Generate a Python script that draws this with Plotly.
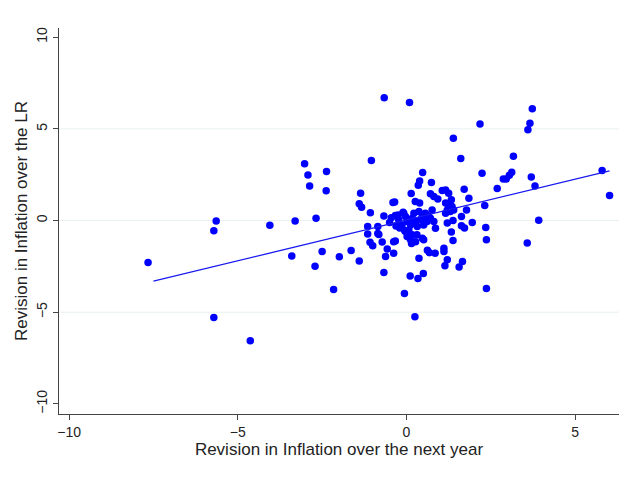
import plotly.graph_objects as go

# revisions (next-year vs long-run inflation)
rev_next_year = [
    -7.66, -5.71, -5.64, -5.71, -4.63, -4.05, -3.40, -3.30, -3.02, -2.92,
    -2.87, -2.68, -2.71, -2.50, -2.37, -2.38, -2.16, -1.99, -1.64, -1.40,
    -1.36, -1.40, -1.33, -1.04, -1.07, -1.15, -1.15, -0.85, -0.85, -0.82,
    -1.08, -1.00, -0.72, -0.57, -0.62, -0.67, -0.66, -0.67, -0.40, -0.35,
    -0.38, -0.33, -0.38, -0.06, 0.09, 0.14, 0.26, 0.39, 0.35, 0.39,
    0.48, 0.74, 0.71, 0.81, 0.93, 1.06, 1.16, 1.25, 1.33, 1.16,
    1.25, 1.35, 1.21, 1.30, 1.40, 1.16, 1.78, 1.63, 1.38, 1.21,
    1.63, 1.72, 1.95, 1.33, 1.38, 1.11, 1.11, 1.21, 1.14, 1.66,
    1.56, 1.61, 1.39, 1.71, 1.85, 2.18, 2.24, 2.32, 2.35, 2.37,
    2.37, 2.69, 2.87, 2.96, 3.05, 3.12, 3.17, 3.60, 3.66, 3.73,
    3.70, 3.81, 3.58, 3.92, 5.80, 6.02, 0.25, 0.50, 0.34, 0.11,
    0.37, 0.62, 0.68, 0.85, 0.02, -0.03, 0.17, 0.12, 0.27, 0.51,
    0.47, 0.31, -0.33, -0.31, -0.23, -0.13, -0.08, -0.03, 0.02, 0.07,
    0.12, 0.17, 0.22, 0.27, 0.32, 0.37, 0.42, 0.47, 0.51, 0.56,
    0.61, 0.66, 0.71, 0.76, 0.81, 0.86, -0.45, -0.50, -0.25, -0.20,
    -0.10, -0.05, 0.05, 0.15, 0.10,
]
rev_long_run = [
    -2.29, -0.56, -0.03, -5.29, -6.55, -0.25, -1.93, -0.03, 3.10, 2.48,
    1.88, 0.12, -2.49, -1.69, 2.68, 1.62, -3.76, -1.98, -1.63, -2.21,
    1.49, 0.92, 0.72, 3.28, 0.43, -0.33, -0.74, -0.33, -0.70, -0.76,
    -1.18, -1.38, -1.17, -1.55, -1.96, -2.84, 6.69, 0.25, 0.99, 1.01,
    -1.15, -1.12, -1.78, -3.98, 6.44, 1.47, 1.04, 0.95, 1.93, 2.15,
    2.62, 2.07, 1.46, 1.31, 1.17, 1.64, 1.67, 1.49, 1.13, 0.95,
    0.86, 0.76, 0.58, 0.49, 0.58, 0.40, 0.58, 0.22, 0.00, -0.14,
    -0.29, -0.41, -0.11, -0.63, -1.09, -1.51, -1.69, -2.14, -2.47, -2.24,
    -2.54, 3.38, 4.49, 1.71, 1.22, 5.26, 2.58, 0.82, -0.38, -1.05,
    -3.71, 1.75, 2.27, 2.27, 2.47, 2.64, 3.51, 4.95, 5.31, 6.09,
    2.37, 1.89, -1.22, 0.02, 2.73, 1.36, -5.25, -2.89, -3.16, -3.03,
    -2.05, -1.62, -1.75, -1.78, -0.87, -0.60, -0.78, -1.05, -1.15, -1.05,
    -0.96, -0.78, 0.27, -0.30, 0.04, -0.24, 0.40, 0.22, -0.05, -0.51,
    -0.24, 0.13, 0.40, -0.05, -0.33, 0.49, 0.04, 0.22, -0.24, 0.40,
    -0.05, 0.22, 0.13, 0.58, -0.05, -0.42, 0.15, -0.10, 0.30, -0.40,
    0.45, -0.55, -0.70, -1.25, -0.95,
]

# fitted line end points
fit_x = [-7.50, 6.02]
fit_y = [-3.31, 2.71]

x_ticks = [-10, -5, 0, 5]
y_ticks = [-10, -5, 0, 5, 10]
grid_y = [-5, 0, 5]

fig = go.Figure(go.Scatter(
    x=rev_next_year,
    y=rev_long_run,
    mode='markers',
    marker=dict(color='#0000FF', size=7.5, line=dict(width=0)),
    showlegend=False
))

fig.add_traces(go.Scatter(
    x=fit_x,
    y=fit_y,
    mode='lines',
    line=dict(color='#1A1AF0', width=1.3),
    showlegend=False
))

for g in grid_y:
    fig.add_hline(y=g, line=dict(color='#E8F0F1', width=1), layer='below')

# page body has an 8px margin, so the figure is a bit smaller than the window
fig.update_layout(
    width=620,
    height=469,
    plot_bgcolor='white',
    paper_bgcolor='white',
    font=dict(family='Liberation Sans, Arial, sans-serif', size=14, color='#222222'),
    margin=dict(l=51, r=9, t=20, b=63),
    xaxis=dict(
        range=[-10.3, 6.3],
        tickvals=x_ticks,
        ticks='outside', ticklen=5, tickcolor='#444444',
        showline=True, linecolor='#444444', linewidth=1,
        showgrid=False, zeroline=False,
        title=dict(text='Revision in Inflation over the next year', standoff=2),
    ),
    yaxis=dict(
        range=[-10.55, 10.5],
        tickvals=y_ticks,
        tickangle=-90,
        ticks='outside', ticklen=5, tickcolor='#444444',
        showline=True, linecolor='#444444', linewidth=1,
        showgrid=False, zeroline=False,
        title=dict(text='Revision in Inflation over the LR', standoff=2),
    ),
)

fig.write_html("out.html")
